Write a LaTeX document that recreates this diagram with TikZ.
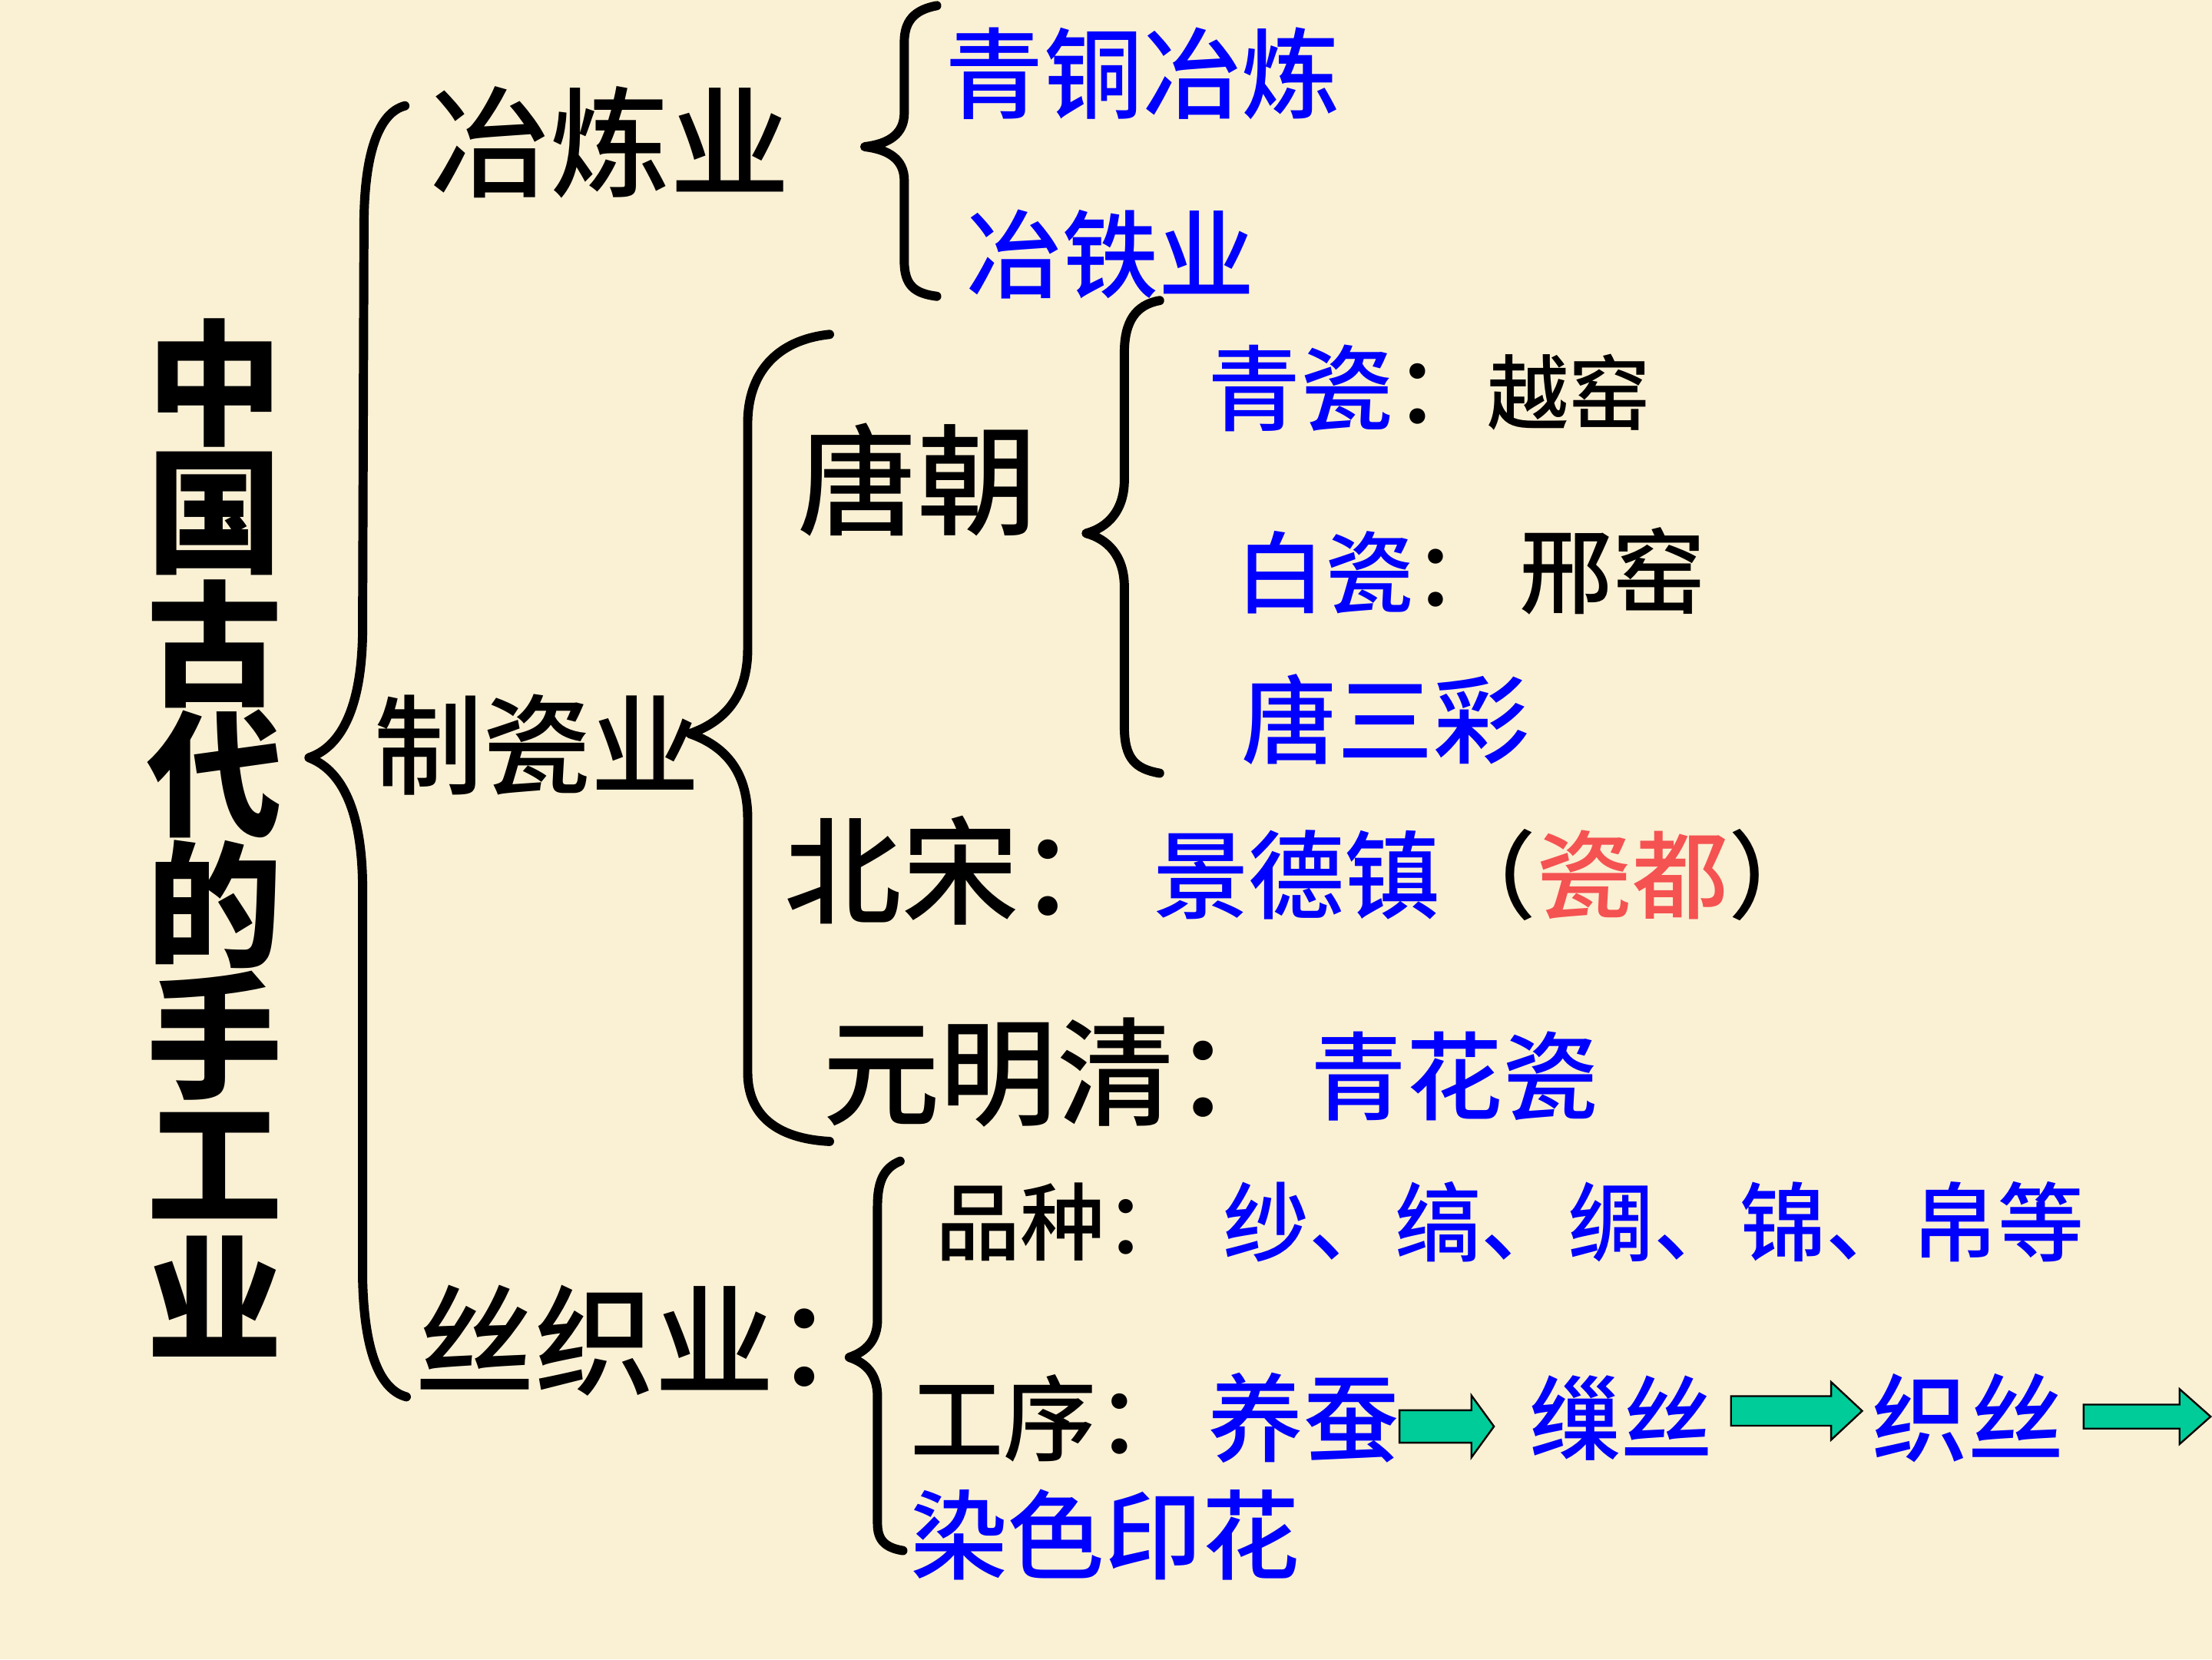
\documentclass[tikz,border=0pt]{standalone}
\usepackage{fontspec}
\newfontfamily\cjk{Noto Sans CJK SC Medium}
\newfontfamily\cjkblack{Noto Sans CJK SC Black}
\newcommand\cfs[1]{\cjk\fontsize{#1}{#1}\selectfont}
\newcommand\cfb[1]{\cjkblack\fontsize{#1}{#1}\selectfont}
\definecolor{bgc}{RGB}{250,240,212}
\definecolor{pblue}{RGB}{0,0,255}
\definecolor{pred}{RGB}{245,82,82}
\definecolor{pgreen}{RGB}{0,204,153}
\tikzset{
  txt/.style={inner sep=0pt, anchor=west, text=black},
  blu/.style={txt, text=pblue},
  bracepath/.style={draw=black, line width=6.5pt, line cap=round, line join=round},
  garrowstyle/.style={fill=pgreen, draw=black, line width=1.3pt, line join=miter}
}
\begin{document}
\begin{tikzpicture}[x=1pt,y=-1pt]
\useasboundingbox (0,0) rectangle (1568,1176);
\fill[bgc] (0,0) rectangle (1568,1176);

% title
\foreach \c [count=\i] in {中,国,古,代,的,手,工,业}
  \node[inner sep=0pt, font=\cfb{96}] (t\i) at ({152},{225+(\i-0.5)*92.5}) {\c};

% level 1
\node[txt, font=\cfs{85}] (yl) at (305,101) {冶炼业};
\node[txt, font=\cfs{77}] (zc) at (265,528) {制瓷业};
\node[txt, font=\cfs{85}] (sz) at (294,950) {丝织业：};

% metallurgy
\node[blu, font=\cfs{70}] (qt) at (670,52) {青铜冶炼};
\node[blu, font=\cfs{68}] (yt) at (685,180) {冶铁业};

% porcelain
\node[txt, font=\cfs{85}] (tc) at (565,340) {唐朝};
\node[blu, font=\cfs{66}] (qc) at (856,275) {青瓷\textcolor{black}{：{\cfs{58}越窑}}};
\node[blu, font=\cfs{63}] (bc) at (876,405) {白瓷\textcolor{black}{：\hspace{12pt}{\cfs{66}邢窑}}};
\node[blu, font=\cfs{68}] (tsc) at (880,510) {唐三彩};
\node[txt, font=\cfs{83}] (bs) at (556,617) {北宋：};
\node[blu, font=\cfs{68}] (jdz) at (817,620) {景德镇\textcolor{black}{（}\textcolor{pred}{瓷都}\textcolor{black}{）}};
\node[txt, font=\cfs{83}] (ymq) at (583,760) {元明清：};
\node[blu, font=\cfs{68}] (qhc) at (929,763) {青花瓷};

% silk
\node[txt, font=\cfs{60}] (pz) at (663,866) {品种：};
\node[blu, font=\cfs{61}] (pzl) at (867,866) {纱、缟、绸、锦、帛等};
\node[txt, font=\cfs{66}] (gx) at (645,1005) {工序：};
\node[blu, font=\cfs{68}] (yc) at (856,1005) {养蚕};
\node[blu, font=\cfs{65}] (sas) at (1084,1005) {缫丝};
\node[blu, font=\cfs{68}] (zs) at (1327,1005) {织丝};
\node[blu, font=\cfs{69}] (rs) at (645,1088) {染色印花};

% block arrows
\draw[garrowstyle] (992,999.5) -- (1043,999.5) -- (1043,989) -- (1059,1011) -- (1043,1033) -- (1043,1022.5) -- (992,1022.5) -- cycle;
\draw[garrowstyle] (1227,989.5) -- (1298,989.5) -- (1298,979.5) -- (1320,1000) -- (1298,1020.5) -- (1298,1010.5) -- (1227,1010.5) -- cycle;
\draw[garrowstyle] (1477,995.5) -- (1545,995.5) -- (1545,984.5) -- (1567,1004) -- (1545,1023.5) -- (1545,1012.5) -- (1477,1012.5) -- cycle;

% braces
\draw[bracepath] (287,75) .. controls (268,80) and (258,110) .. (258,160) -- (257,450) .. controls (256,505) and (240,530) .. (219,537) .. controls (240,545) and (256,570) .. (257,625) -- (257,905) .. controls (258,960) and (270,985) .. (288,990);
\draw[bracepath] (664,4) .. controls (648,7) and (641,15) .. (641,30) -- (641,80) .. controls (641,95) and (630,102) .. (613,104) .. controls (630,106) and (641,113) .. (641,128) -- (641,185) .. controls (641,202) and (648,208) .. (664,210);
\draw[bracepath] (588,237) .. controls (550,241) and (530,265) .. (530,300) -- (530,460) .. controls (530,495) and (512,512) .. (489,520) .. controls (512,528) and (530,545) .. (530,580) -- (530,760) .. controls (530,790) and (550,807) .. (588,809);
\draw[bracepath] (822,213) .. controls (805,216) and (797,228) .. (797,250) -- (797,340) .. controls (797,362) and (785,374) .. (770,378) .. controls (785,382) and (797,394) .. (797,416) -- (797,515) .. controls (797,538) and (805,545) .. (822,548);
\draw[bracepath] (638,823) .. controls (626,828) and (622,838) .. (622,855) -- (622,935) .. controls (622,950) and (614,958) .. (602,962) .. controls (614,966) and (622,974) .. (622,990) -- (622,1080) .. controls (622,1092) and (628,1097) .. (640,1099);
\end{tikzpicture}
\end{document}
